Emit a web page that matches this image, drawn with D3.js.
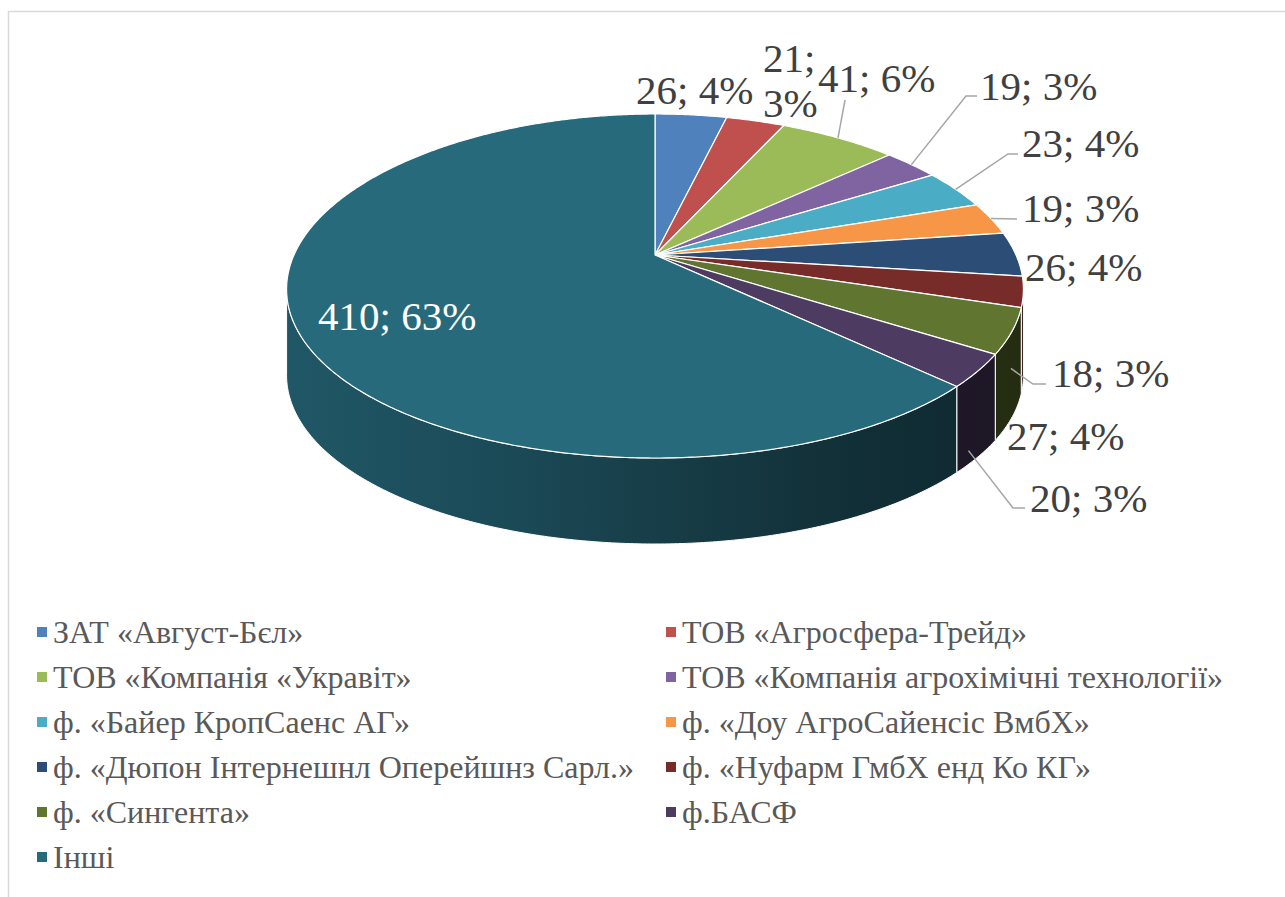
<!DOCTYPE html>
<html lang="uk">
<head>
<meta charset="UTF-8">
<title>Частки виробників</title>
<script src="https://d3js.org/d3.v7.min.js"></script>
<style>
    body { margin: 0; background: #fff; }
    svg text { font-family: "Liberation Serif", "Times New Roman", "DejaVu Serif", serif; }
    .label { font-size: 41px; fill: #404040; }
    .label.inside { fill: #fff; }
    .legend text { font-size: 32px; fill: #595959; }
    .leader { fill: none; stroke: #a6a6a6; stroke-width: 1.5px; }
</style>
</head>
<body>
<div id="chart"></div>
<script>
    // data
    const companies = [
        "ЗАТ «Август-Бєл»",
        "ТОВ «Агросфера-Трейд»",
        "ТОВ «Компанія «Укравіт»",
        "ТОВ «Компанія агрохімічні технології»",
        "ф. «Байер КропСаенс АГ»",
        "ф. «Доу АгроСайенсіс ВмбХ»",
        "ф. «Дюпон Інтернешнл Оперейшнз Сарл.»",
        "ф. «Нуфарм ГмбХ енд Ко КГ»",
        "ф. «Сингента»",
        "ф.БАСФ",
        "Інші"
    ];
    const values = [26, 21, 41, 19, 23, 19, 26, 18, 27, 20, 410];
    const palette = ["#4F81BD", "#C0504D", "#9BBB59", "#8064A2", "#4BACC6", "#F79646",
                     "#2C4D75", "#772C2A", "#5F7530", "#4D3B62", "#276A7C"];

    // label placement (text left / baseline), leader elbows
    const labelPos = [
        {x: 636, y: 104},
        {x: 763, y: 72, wrap: true},
        {x: 818, y: 92},
        {x: 980, y: 100},
        {x: 1022, y: 157},
        {x: 1022, y: 222},
        {x: 1025, y: 281},
        {x: 1052, y: 387},
        {x: 1007, y: 450},
        {x: 1030, y: 512},
        {x: 318, y: 330, inside: true}
    ];
    const leaders = [
        {i: 2, angle: null, dz: 0, pts: [[845, 100]]},
        {i: 3, angle: null, dz: 0, pts: [[966, 96], [977, 96]]},
        {i: 4, angle: null, dz: 0, pts: [[1008, 154], [1018, 154]]},
        {i: 5, angle: null, dz: 0, pts: [[1017, 219]]},
        {i: 7, angle: 115, dz: 0.41, pts: [[1033, 384], [1046, 384]]},
        {i: 9, angle: 130, dz: 0.84, pts: [[1013, 508], [1025, 508]]}
    ];

    const width = 1285, height = 897;
    const svg = d3.select("#chart").append("svg")
        .attr("width", width)
        .attr("height", height);

    svg.append("rect")
        .attr("x", 8.5).attr("y", 11.5)
        .attr("width", 1400).attr("height", 1000)
        .attr("fill", "#fff")
        .attr("stroke", "#d9d9d9")
        .attr("stroke-width", 1.5);

    // tilted disc: angle clockwise from 12 o'clock -> screen point
    const cx = 655, cy = 255, depth = 86;
    const proj = (a, r = 1) => {
        const u = r * Math.sin(a), v = -r * Math.cos(a);
        return [cx + u * (361 + 75 * v), cy + v * (172 + 31 * v)];
    };

    const total = d3.sum(values);
    const arcs = d3.pie().sort(null).value(d => d)(values);

    const samples = d3.range(0, 3600).map(i => i * Math.PI / 1800);
    const aRight = d3.greatest(samples, a => proj(a)[0]);
    const aLeft = d3.least(samples, a => proj(a)[0]);

    const rim = (a0, a1, dy = 0) => {
        const n = Math.max(2, Math.ceil((a1 - a0) / 0.01));
        return d3.range(n + 1).map(k => {
            const p = proj(a0 + (a1 - a0) * k / n);
            return [p[0], p[1] + dy];
        });
    };
    const line = d3.line();

    // side shading, lighter on the left
    const shade = [[0, 0.82], [0.3, 0.7], [0.55, 0.56], [0.75, 0.45], [1, 0.38]];
    const defs = svg.append("defs");
    palette.forEach((c, i) => {
        const g = defs.append("linearGradient")
            .attr("id", "side" + i)
            .attr("gradientUnits", "userSpaceOnUse")
            .attr("x1", cx - 368).attr("x2", cx + 368)
            .attr("y1", 0).attr("y2", 0);
        const base = d3.rgb(c);
        g.selectAll("stop").data(shade).join("stop")
            .attr("offset", s => s[0])
            .attr("stop-color", s => d3.rgb(base.r * s[1], base.g * s[1], base.b * s[1]).formatHex());
    });

    const pie = svg.append("g");

    // side walls (front half only)
    arcs.forEach((d, i) => {
        const a0 = Math.max(d.startAngle, aRight), a1 = Math.min(d.endAngle, aLeft);
        if (a0 >= a1) return;
        const pts = rim(a0, a1).concat(rim(a0, a1, depth).reverse());
        pie.append("path")
            .attr("d", line(pts) + "Z")
            .attr("fill", `url(#side${i})`)
            .attr("stroke", "#fff")
            .attr("stroke-width", 1)
            .attr("stroke-linejoin", "round");
    });

    // top faces
    pie.selectAll(".top")
        .data(arcs)
        .join("path")
        .attr("class", "top")
        .attr("d", d => line([[cx, cy]].concat(rim(d.startAngle, d.endAngle))) + "Z")
        .attr("fill", (d, i) => palette[i])
        .attr("stroke", "#fff")
        .attr("stroke-width", 1.2)
        .attr("stroke-linejoin", "round");

    // leader lines
    leaders.forEach(l => {
        const d = arcs[l.i];
        const a = l.angle == null ? (d.startAngle + d.endAngle) / 2 : l.angle * Math.PI / 180;
        const p = proj(a);
        const start = [p[0], p[1] + l.dz * depth];
        svg.append("path")
            .attr("class", "leader")
            .attr("d", line([start].concat(l.pts)));
    });

    // data labels
    arcs.forEach((d, i) => {
        const pos = labelPos[i];
        const pct = Math.round(values[i] / total * 100) + "%";
        const t = svg.append("text")
            .attr("class", "label" + (pos.inside ? " inside" : ""))
            .attr("x", pos.x).attr("y", pos.y);
        if (pos.wrap) {
            t.append("tspan").attr("x", pos.x).text(values[i] + ";");
            t.append("tspan").attr("x", pos.x).attr("dy", 45).text(pct);
        } else {
            t.text(values[i] + "; " + pct);
        }
    });

    // legend
    const legend = svg.append("g").attr("class", "legend");
    const colX = [37, 666], rowY = 632, rowH = 45;
    const item = legend.selectAll("g")
        .data(companies)
        .join("g")
        .attr("transform", (d, i) => `translate(${colX[i % 2]},${rowY + Math.floor(i / 2) * rowH})`);
    item.append("rect")
        .attr("x", 0).attr("y", -5)
        .attr("width", 10).attr("height", 10)
        .attr("fill", (d, i) => palette[i]);
    item.append("text")
        .attr("x", 16).attr("y", 11)
        .text(d => d);
</script>
</body>
</html>
